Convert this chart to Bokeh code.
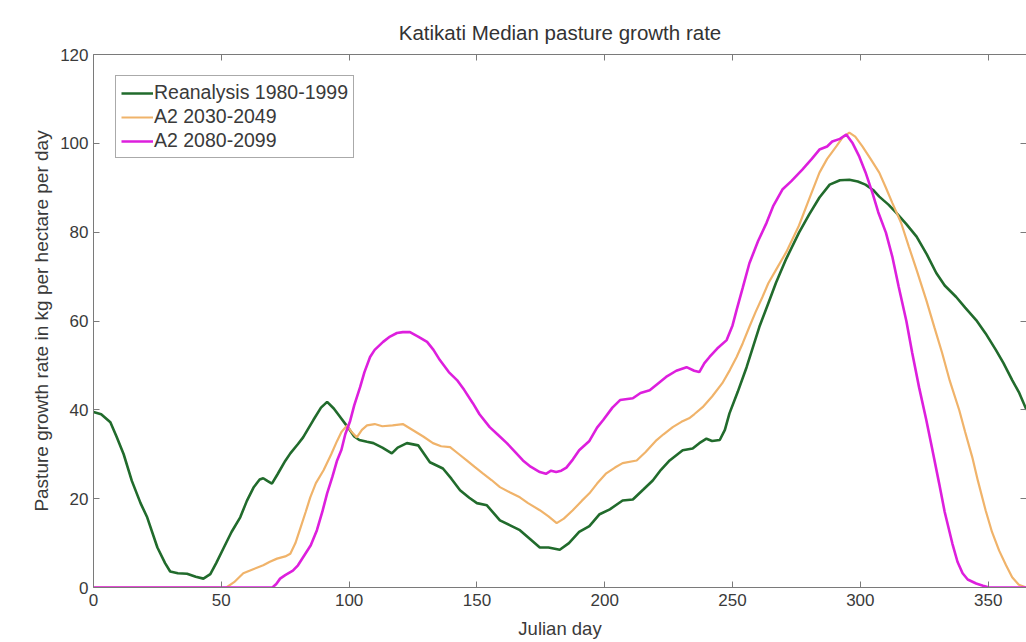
from bokeh.plotting import figure
from bokeh.models import Range1d, LinearAxis, Legend, LegendItem, FixedTicker
from bokeh.embed import file_html
from bokeh.resources import INLINE

# Median pasture growth rate (kg/ha/day) at Katikati by Julian day
reanalysis_day = [0, 3, 6.6, 9, 11.8, 15, 18.4, 21, 25, 28, 30, 33, 36.6, 40, 43, 45.7, 48, 51, 54,
                  57.4, 60, 62.6, 65, 66.4, 68, 69.8, 72, 75, 77, 80, 82, 86, 89, 91.4, 94, 96.5,
                  99.6, 102, 104, 107, 109.5, 113, 116.7, 119, 122.6, 127, 131.6, 136.7, 140, 143.4,
                  147, 150, 153.9, 159, 163, 166.8, 171, 174.6, 178, 182.4, 186, 190, 194, 198, 202,
                  207, 211, 215, 218.8, 222, 225.4, 230.5, 234.4, 237, 239.8, 242, 245, 247, 248.8,
                  252, 255.5, 260.5, 264, 267, 271, 276, 280, 284, 288, 292, 295.7, 299, 302, 305,
                  307.4, 311, 314, 318, 322, 326, 329.7, 333, 337.5, 341, 345.3, 349, 353, 356,
                  359.4, 362, 365]
reanalysis_rate = [39.5, 39, 37.2, 34, 30, 24, 19, 15.8, 9, 5.5, 3.6, 3.2, 3.1, 2.4, 2.0, 3, 5.5, 9,
                   12.5, 15.8, 19.5, 22.5, 24.3, 24.6, 24, 23.4, 25.5, 28.5, 30.2, 32.3, 33.8, 37.7,
                   40.5, 41.8, 40.3, 38.4, 36, 34, 33.2, 32.8, 32.5, 31.5, 30.2, 31.5, 32.5, 32,
                   28.2, 26.8, 24.5, 21.9, 20.2, 19, 18.5, 15.1, 14, 12.9, 10.8, 9, 9, 8.5, 10,
                   12.5, 13.8, 16.5, 17.6, 19.6, 19.8, 22, 24.1, 26.5, 28.6, 30.9, 31.3, 32.5, 33.5,
                   33, 33.2, 35.5, 39.2, 44, 49.6, 58.7, 64, 68.6, 74, 79.9, 84, 87.8, 90.7, 91.7,
                   91.8, 91.4, 90.7, 89.5, 88, 86.2, 84.4, 81.8, 79, 75, 70.8, 68, 65.4, 63, 60.2,
                   57.2, 53.5, 50.5, 46.7, 44, 40]

a2_2030_day = [0, 52, 55, 58.6, 62, 66.4, 69, 71.8, 75, 77, 79, 81, 83, 84.8, 87, 90, 93, 95.3, 97,
               99.2, 101, 103, 105, 107, 110, 113, 117, 121, 125, 129, 132.8, 136, 139.5, 143, 146,
               149, 152.3, 155.7, 159, 163, 166.8, 170, 174.6, 178, 181.2, 184, 187.5, 191, 194,
               197, 200.6, 204, 207, 212.5, 216, 220.3, 223, 226.6, 230, 233, 235, 238.3, 242, 246,
               249, 251.6, 254, 256.6, 259, 261.7, 264, 267, 271, 276, 280, 284, 287, 290.6, 293,
               295.7, 298, 300.8, 304, 307.4, 310, 312.5, 316, 319, 322, 325.8, 329, 332, 335,
               338.7, 341, 343.8, 346, 349, 351.5, 354.3, 357, 359.4, 362, 365]
a2_2030_rate = [0, 0, 1.2, 3.2, 4, 5, 5.8, 6.5, 7, 7.6, 10, 13.5, 17, 20.3, 23.5, 26.4, 30, 33, 35,
                36.5, 35, 33.8, 35.5, 36.5, 36.8, 36.3, 36.5, 36.8, 35.4, 34, 32.5, 31.8, 31.6, 30,
                28.6, 27.2, 25.7, 24.2, 22.6, 21.4, 20.3, 19, 17.4, 16, 14.5, 15.5, 17.4, 19.5,
                21.2, 23.4, 25.7, 27, 28, 28.6, 30.5, 33.2, 34.5, 36.1, 37.3, 38.1, 39, 40.6, 43,
                46, 49, 51.9, 55, 58.7, 62, 65.4, 68.5, 71.5, 75.5, 81.5, 87.5, 93.4, 96.5, 99.3,
                101.3, 102.4, 101.5, 99.3, 96.5, 93.4, 90, 86.6, 82, 76.7, 71.5, 64.7, 58.5, 52.8,
                46.5, 39.9, 35, 29.3, 24, 17.4, 12.5, 8.3, 5, 2.3, 0.6, 0]

a2_2080_day = [0, 70, 71.5, 73, 75, 78, 80, 82, 85, 87.4, 89.5, 91.4, 93.5, 95.3, 97, 98.5, 100.4,
               102, 104.3, 106, 108.2, 110, 113.3, 116, 118.7, 121, 123.8, 127, 130.5, 133, 135.5,
               139, 142.2, 145, 148.4, 151, 155, 158, 161.7, 165, 168, 171, 174.6, 177, 179, 181,
               183, 185, 187.5, 190, 194, 197, 199.4, 203, 206, 211, 214, 217.6, 221, 224, 228,
               232, 235, 237, 239, 241, 244, 247.7, 250, 251.6, 254, 256.6, 260, 263.3, 266,
               269.5, 273, 277.3, 281, 284, 287, 289, 292, 294.5, 297, 299.6, 302, 304.7, 307,
               310, 312.5, 315, 318, 320.3, 323, 325.8, 328, 330.8, 333, 336, 338, 340, 342,
               345.3, 348, 350.4, 365]
a2_2080_rate = [0, 0, 0.8, 2, 2.8, 3.8, 5, 6.8, 9.5, 12.9, 17, 21.2, 25, 28.6, 31, 34.5, 37.5, 41,
                45.1, 48.5, 51.9, 53.5, 55.3, 56.5, 57.3, 57.5, 57.5, 56.5, 55.3, 53.5, 51.2, 48.5,
                46.7, 44.5, 41.5, 39, 36.1, 34.5, 32.5, 30.5, 28.6, 27.2, 26, 25.6, 26.3, 26, 26.3,
                27, 28.8, 30.9, 33, 36, 37.7, 40.5, 42.2, 42.6, 43.8, 44.4, 46, 47.4, 48.8, 49.6,
                48.8, 48.5, 50.5, 51.9, 53.8, 55.7, 59, 62.5, 67.5, 73, 78, 82.1, 86, 89.6, 91.5,
                94.1, 96.5, 98.6, 99.3, 100.4, 101, 102, 100, 97, 93.5, 88.9, 84.5, 79.9, 74.5,
                67.7, 60, 52.8, 45, 37.7, 31.5, 23.5, 17, 9.9, 5.8, 3.2, 1.8, 0.9, 0.4, 0, 0]

series_labels = ["Reanalysis 1980-1999", "A2 2030-2049", "A2 2080-2099"]
x_ticks = [0, 50, 100, 150, 200, 250, 300, 350]
y_ticks = [0, 20, 40, 60, 80, 100, 120]

FONT = "Liberation Sans"
AXIS_GREY = "#7a7a7a"
TEXT_GREY = "#3a3a3a"

p = figure(width=1026, height=642,
           x_range=Range1d(0, 365), y_range=Range1d(0, 120),
           output_backend="svg", toolbar_location=None,
           min_border_left=93, min_border_right=0,
           min_border_top=54, min_border_bottom=55,
           title="Katikati Median pasture growth rate",
           background_fill_color="white", border_fill_color="white",
           outline_line_color=None)

p.title.align = "center"
p.title.vertical_align = "top"
p.title.text_font = FONT
p.title.text_font_size = "20.5px"
p.title.text_font_style = "normal"
p.title.text_color = "#333333"
p.title.standoff = 18

p.grid.visible = False

# bottom / left axes carry the labels
for ax in (p.xaxis[0], p.yaxis[0]):
    ax.axis_line_color = AXIS_GREY
    ax.major_tick_line_color = AXIS_GREY
    ax.major_tick_in = 6
    ax.major_tick_out = 0
    ax.minor_tick_line_color = None
    ax.major_label_text_font = FONT
    ax.major_label_text_font_size = "17px"
    ax.major_label_text_color = TEXT_GREY
    ax.axis_label_text_font = FONT
    ax.axis_label_text_font_style = "normal"
    ax.axis_label_text_color = TEXT_GREY

p.xaxis.ticker = FixedTicker(ticks=x_ticks)
p.yaxis.ticker = FixedTicker(ticks=y_ticks)
p.xaxis.axis_label = "Julian day"
p.yaxis.axis_label = "Pasture growth rate in kg per hectare per day"
p.xaxis.axis_label_text_font_size = "18.5px"
p.yaxis.axis_label_text_font_size = "19px"
p.xaxis.major_label_standoff = 6
p.xaxis.axis_label_standoff = 9
p.yaxis.major_label_standoff = 5
p.yaxis.axis_label_standoff = 5

# top / right axes close the box with inward ticks only
top = LinearAxis(ticker=FixedTicker(ticks=x_ticks))
right = LinearAxis(ticker=FixedTicker(ticks=y_ticks))
for ax in (top, right):
    ax.axis_line_color = AXIS_GREY
    ax.major_tick_line_color = AXIS_GREY
    ax.major_tick_in = 6
    ax.major_tick_out = 0
    ax.minor_tick_line_color = None
    ax.major_label_text_font_size = "0px"
    ax.major_label_text_color = None
    ax.major_label_standoff = 0
p.add_layout(top, "above")
p.add_layout(right, "right")

r_green = p.line(reanalysis_day, reanalysis_rate, line_color="#216b2c", line_width=2.6)
r_orange = p.line(a2_2030_day, a2_2030_rate, line_color="#f0b36a", line_width=2.2)
r_magenta = p.line(a2_2080_day, a2_2080_rate, line_color="#dd1fdd", line_width=2.6)

legend = Legend(items=[LegendItem(label=series_labels[0], renderers=[r_green]),
                       LegendItem(label=series_labels[1], renderers=[r_orange]),
                       LegendItem(label=series_labels[2], renderers=[r_magenta])],
                location=(22, 429))
legend.label_text_font = FONT
legend.label_text_font_size = "19.5px"
legend.label_text_color = TEXT_GREY
legend.glyph_width = 32
legend.glyph_height = 22
legend.label_height = 22
legend.label_standoff = 1
legend.spacing = 1
legend.padding = 5
legend.margin = 0
legend.border_line_color = "#555555"
legend.border_line_width = 1
legend.background_fill_color = "white"
legend.background_fill_alpha = 1
p.add_layout(legend, "center")

open("out.html", "w").write(file_html(p, INLINE))
